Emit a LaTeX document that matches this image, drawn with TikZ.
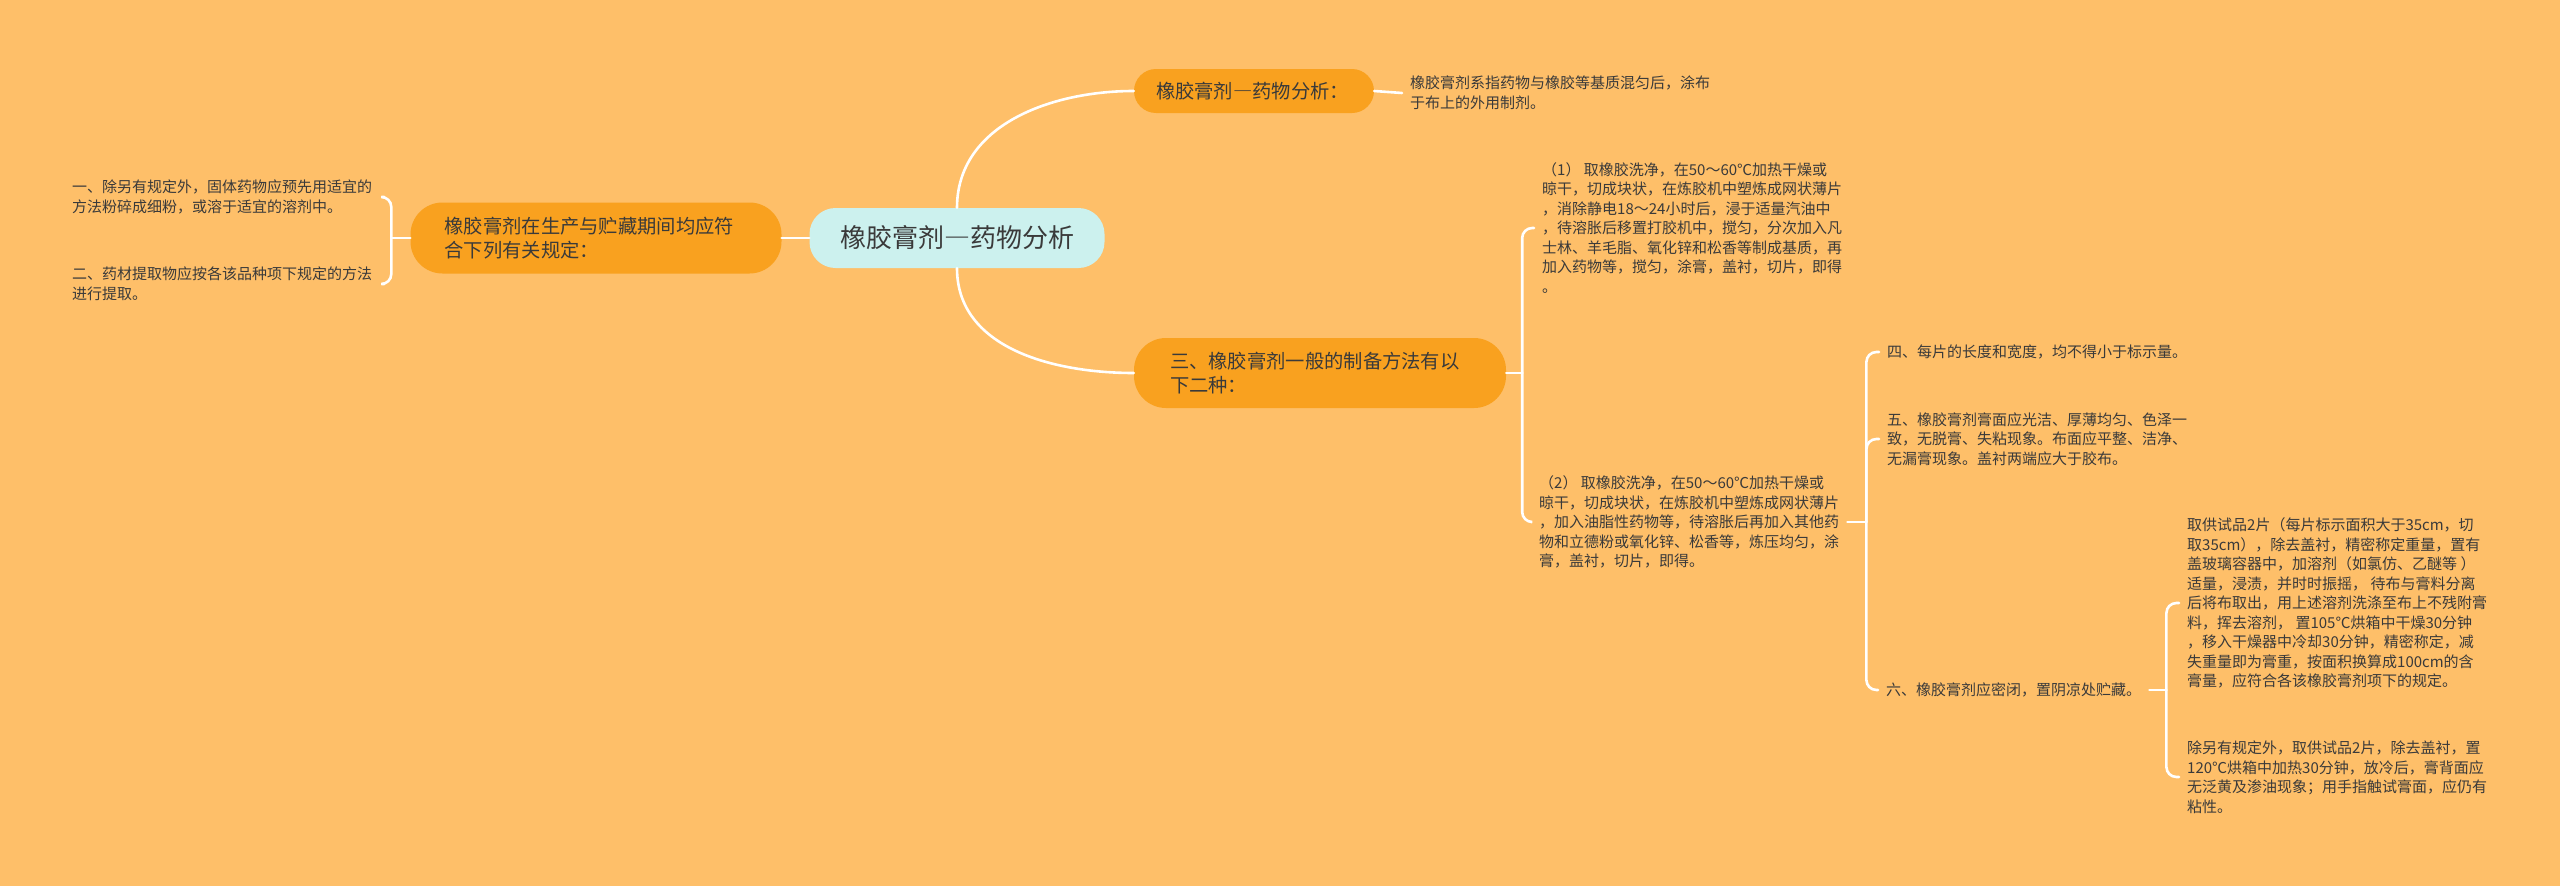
\documentclass[tikz,border=0pt]{standalone}
\usepackage{fontspec}
\setmainfont{Noto Sans CJK SC}
\usetikzlibrary{calc}
\definecolor{bgc}{HTML}{FEBF69}
\definecolor{branchc}{HTML}{F9A11F}
\definecolor{centerc}{HTML}{CCF1EE}
\definecolor{txt}{HTML}{3A3A3A}
\newcommand{\fwdash}{{\addfontfeature{CharacterWidth=Full}—}}
\begin{document}
\begin{tikzpicture}[x=1pt,y=-1pt,
  conn/.style={draw=white,line width=2.6pt,line cap=round},
  brk/.style={conn,rounded corners=10pt},
  leaf/.style={anchor=west,align=left,inner xsep=8pt,inner ysep=2pt,text=txt,font=\fontsize{15}{19.5}\selectfont},
  branch/.style={fill=branchc,rounded corners=22pt,text=txt,align=left,inner ysep=0pt,font=\fontsize{19.3}{24}\selectfont},
  ]
\fill[bgc] (0,0) rectangle (2560,886);
\useasboundingbox (0,0) rectangle (2560,886);

% main nodes
\node[fill=centerc, rounded corners=26pt, minimum width=295pt, minimum height=60pt, inner sep=0pt, text=txt, font=\fontsize{26}{30}\selectfont] (c) at (957,238) {橡胶膏剂\fwdash 药物分析};
\node[branch, inner xsep=22pt, text width=196pt, minimum height=44pt] (t) at (1254,91) {橡胶膏剂\fwdash 药物分析：};
\node[branch, rounded corners=32pt, inner xsep=36pt, text width=300pt, minimum height=70pt] (b) at (1320,373) {三、橡胶膏剂一般的制备方法有以\\下二种：};
\node[branch, rounded corners=32pt, inner xsep=34pt, text width=303pt, minimum height=71pt] (l) at (596,238) {橡胶膏剂在生产与贮藏期间均应符\\合下列有关规定：};

% leaves
\node[leaf] (l1) at (64,197) {一、除另有规定外，固体药物应预先用适宜的\\方法粉碎成细粉，或溶于适宜的溶剂中。};
\node[leaf] (l2) at (64,284) {二、药材提取物应按各该品种项下规定的方法\\进行提取。};
\node[leaf] (t1) at (1402,93) {橡胶膏剂系指药物与橡胶等基质混匀后，涂布\\于布上的外用制剂。};
\node[leaf] (p1) at (1534,228) {（1） 取橡胶洗净，在50～60℃加热干燥或\\晾干，切成块状，在炼胶机中塑炼成网状薄片\\，消除静电18～24小时后，浸于适量汽油中\\，待溶胀后移置打胶机中，搅匀，分次加入凡\\士林、羊毛脂、氧化锌和松香等制成基质，再\\加入药物等，搅匀，涂膏，盖衬，切片，即得\\。};
\node[leaf] (p2) at (1531,522) {（2） 取橡胶洗净，在50～60℃加热干燥或\\晾干，切成块状，在炼胶机中塑炼成网状薄片\\，加入油脂性药物等，待溶胀后再加入其他药\\物和立德粉或氧化锌、松香等，炼压均匀，涂\\膏，盖衬，切片，即得。};
\node[leaf] (s4) at (1879,352) {四、每片的长度和宽度，均不得小于标示量。};
\node[leaf] (s5) at (1879,439) {五、橡胶膏剂膏面应光洁、厚薄均匀、色泽一\\致，无脱膏、失粘现象。布面应平整、洁净、\\无漏膏现象。盖衬两端应大于胶布。};
\node[leaf] (s6) at (1878,690) {六、橡胶膏剂应密闭，置阴凉处贮藏。};
\node[leaf] (a) at (2179,603) {取供试品2片（每片标示面积大于35cm，切\\取35cm），除去盖衬，精密称定重量，置有\\盖玻璃容器中，加溶剂（如氯仿、乙醚等 ）\\适量，浸渍，并时时振摇， 待布与膏料分离\\后将布取出，用上述溶剂洗涤至布上不残附膏\\料，挥去溶剂， 置105℃烘箱中干燥30分钟\\，移入干燥器中冷却30分钟，精密称定，减\\失重量即为膏重，按面积换算成100cm的含\\膏量，应符合各该橡胶膏剂项下的规定。};
\node[leaf] (bb) at (2179,777) {除另有规定外，取供试品2片，除去盖衬，置\\120℃烘箱中加热30分钟，放冷后，膏背面应\\无泛黄及渗油现象；用手指触试膏面，应仍有\\粘性。};

% junctions
\coordinate (jl) at ($(l.west)+(-19,0)$);
\coordinate (jb) at ($(b.east)+(16,0)$);
\coordinate (jp) at ($(p2.east)+(19,0)$);
\coordinate (js) at ($(s6.east)+(17,0)$);

% connectors
\draw[conn] (c.north) to[out=90,in=180] (t.west);
\draw[conn] (c.south) to[out=-90,in=180] (b.west);
\draw[conn] (c.west) -- (l.east);
\draw[conn] (l.west) -- (jl);
\draw[brk] (jl) |- ($(l1.east)+(4,0)$);
\draw[brk] (jl) |- ($(l2.east)+(4,0)$);
\draw[conn] (t.east) -- (t1.west);
\draw[conn] (b.east) -- (jb);
\draw[brk] (jb) |- (p1.west);
\draw[brk] (jb) |- (p2.west);
\draw[conn] (p2.east) -- (jp);
\draw[brk] (jp) |- (s4.west);
\draw[brk] (jp) |- (s5.west);
\draw[brk] (jp) |- (s6.west);
\draw[conn] (s6.east) -- (js);
\draw[brk] (js) |- (a.west);
\draw[brk] (js) |- (bb.west);
\end{tikzpicture}
\end{document}
